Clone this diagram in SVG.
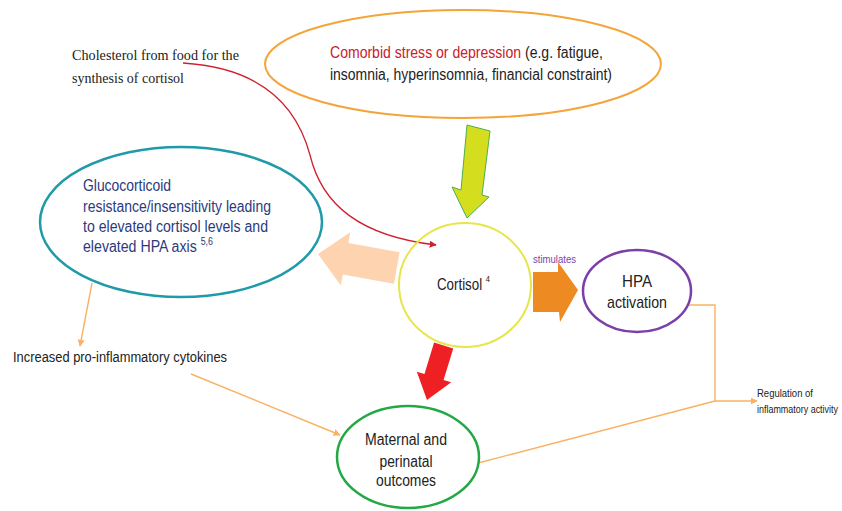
<svg xmlns="http://www.w3.org/2000/svg" width="842" height="511" viewBox="0 0 842 511">
<style>
.s{font-family:"Liberation Sans",Arial,sans-serif;fill:#222}
.t{font-family:"Liberation Serif","Times New Roman",serif;fill:#222}
.n{fill:#2B3A7E}
.ln{fill:none;stroke:#F8B264;stroke-width:1.4}
</style>
<defs>
<marker id="ao" viewBox="0 0 10 10" refX="9" refY="5" markerWidth="7" markerHeight="7" orient="auto" markerUnits="userSpaceOnUse"><path d="M0,0 L10,5 L0,10 z" fill="#F8B264"/></marker>
<marker id="ar" viewBox="0 0 10 10" refX="9" refY="5" markerWidth="7" markerHeight="7" orient="auto" markerUnits="userSpaceOnUse"><path d="M0,0 L10,5 L0,10 z" fill="#D0202E"/></marker>
</defs>
<rect width="842" height="511" fill="#fff"/>

<g id="connectors">
<path d="M183,63 C265,68 298,110 310,155 C322,205 360,236 436,245" fill="none" stroke="#D0202E" stroke-width="1.3" marker-end="url(#ar)"/>
<line x1="92" y1="283" x2="80" y2="346" class="ln" marker-end="url(#ao)"/>
<line x1="191" y1="374" x2="340" y2="435" class="ln" marker-end="url(#ao)"/>
<polyline points="688,305 715,305 715,401" class="ln"/>
<line x1="478" y1="463" x2="715" y2="401" class="ln"/>
<line x1="715" y1="401" x2="757" y2="401" class="ln" marker-end="url(#ao)"/>
<polygon points="467,125 490,131 482,195 489,197 467,218 452,187 461,190" fill="#D4DE1E" stroke="#4CAF50" stroke-width="1"/>
<polygon points="0,0 28,-27 28,-16 80,-16 80,16 28,16 28,27" fill="#FDD3B0" transform="translate(318,254) rotate(10)"/>
<polygon points="533,272 558,272 558,262 578,290 560,322 559,312 533,312" fill="#EE8A22"/>
<polygon points="0,0 -18,-24 -10,-24 -10,-57 10,-57 10,-24 18,-24" fill="#EE2024" transform="translate(427,400) rotate(17)"/>
<text x="533" y="263" class="s" style="fill:#7B45A8" font-size="10" textLength="43" lengthAdjust="spacingAndGlyphs">stimulates</text>
</g>

<g id="cholesterol">
<text x="72" y="60" class="t" font-size="15" textLength="167" lengthAdjust="spacingAndGlyphs">Cholesterol from food for the</text>
<text x="72" y="83" class="t" font-size="15" textLength="112" lengthAdjust="spacingAndGlyphs">synthesis of cortisol</text>
</g>

<g id="stress">
<ellipse cx="463" cy="64" rx="198" ry="54" fill="none" stroke="#F5A43A" stroke-width="2"/>
<text x="330" y="58" class="s" font-size="16" textLength="273" lengthAdjust="spacingAndGlyphs"><tspan style="fill:#C8202A">Comorbid stress or depression</tspan> (e.g. fatigue,</text>
<text x="330" y="80" class="s" font-size="16" textLength="282" lengthAdjust="spacingAndGlyphs">insomnia, hyperinsomnia, financial constraint)</text>
</g>

<g id="glucocorticoid">
<ellipse cx="181" cy="222" rx="141" ry="75" fill="none" stroke="#1E9AA8" stroke-width="2.5"/>
<text x="83" y="191" class="s n" font-size="16" textLength="88" lengthAdjust="spacingAndGlyphs">Glucocorticoid</text>
<text x="83" y="212" class="s n" font-size="16" textLength="188" lengthAdjust="spacingAndGlyphs">resistance/insensitivity leading</text>
<text x="83" y="232" class="s n" font-size="16" textLength="185" lengthAdjust="spacingAndGlyphs">to elevated cortisol levels and</text>
<text x="83" y="252" class="s n" font-size="16" textLength="130" lengthAdjust="spacingAndGlyphs">elevated HPA axis <tspan font-size="10" dy="-7">5,6</tspan></text>
</g>

<g id="cortisol">
<ellipse cx="465" cy="285" rx="66" ry="62" fill="none" stroke="#E6E64A" stroke-width="2"/>
<text x="437" y="290" class="s" font-size="16" textLength="53" lengthAdjust="spacingAndGlyphs">Cortisol <tspan font-size="9" dy="-8">4</tspan></text>
</g>

<g id="hpa">
<ellipse cx="637" cy="291" rx="54" ry="41" fill="none" stroke="#7A3FA8" stroke-width="2.5"/>
<text x="637" y="287" class="s" font-size="17" text-anchor="middle" textLength="30" lengthAdjust="spacingAndGlyphs">HPA</text>
<text x="637" y="308" class="s" font-size="17" text-anchor="middle" textLength="60" lengthAdjust="spacingAndGlyphs">activation</text>
</g>

<g id="cytokines">
<text x="13" y="362" class="s" font-size="14" textLength="214" lengthAdjust="spacingAndGlyphs">Increased pro-inflammatory cytokines</text>
</g>

<g id="maternal">
<ellipse cx="408" cy="457" rx="71" ry="51" fill="none" stroke="#22A844" stroke-width="2.5"/>
<text x="406" y="445" class="s" font-size="16" text-anchor="middle" textLength="82" lengthAdjust="spacingAndGlyphs">Maternal and</text>
<text x="406" y="467" class="s" font-size="16" text-anchor="middle" textLength="53" lengthAdjust="spacingAndGlyphs">perinatal</text>
<text x="406" y="486" class="s" font-size="16" text-anchor="middle" textLength="60" lengthAdjust="spacingAndGlyphs">outcomes</text>
</g>

<g id="regulation">
<text x="757" y="397" class="s" font-size="11" textLength="56" lengthAdjust="spacingAndGlyphs">Regulation of</text>
<text x="757" y="413" class="s" font-size="11" textLength="81" lengthAdjust="spacingAndGlyphs">inflammatory activity</text>
</g>
</svg>
